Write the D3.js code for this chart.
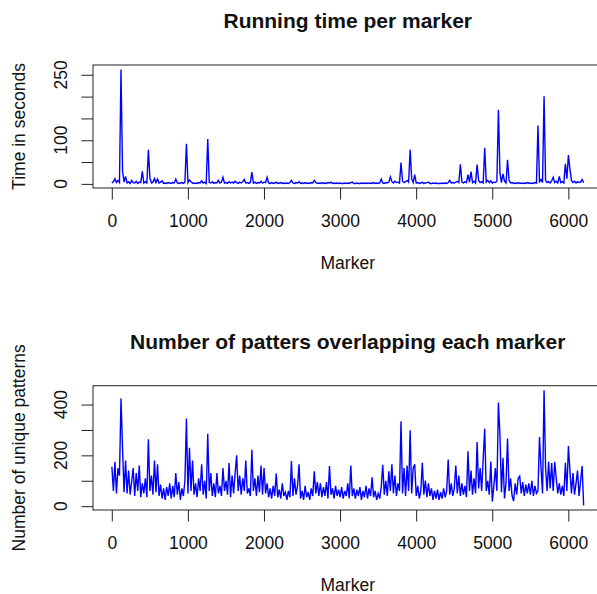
<!DOCTYPE html>
<html>
<head>
<meta charset="utf-8">
<script src="https://cdn.jsdelivr.net/npm/d3@7"></script>
<style>
  body { margin: 0; background: #fff; }
  svg { display: block; font-family: "Liberation Sans", Arial, Helvetica, sans-serif; }
</style>
</head>
<body>
<div id="chart"></div>
<script>
// markers sampled every 20 along the genome-wide index
const step = 20;
const markers = d3.range(1, 6202, step);

// running time (seconds) per marker
const runTime = [
  2, 5, 12, 3, 8, 3, 262, 29, 4, 17,
  2, 5, 1, 8, 3, 2, 6, 1, 4, 3,
  29, 2, 5, 2, 78, 13, 2, 4, 12, 3,
  11, 2, 4, 7, 1, 2, 1, 3, 2, 1,
  3, 2, 11, 2, 1, 2, 3, 1, 4, 92,
  3, 9, 5, 2, 1, 2, 1, 3, 2, 7,
  2, 4, 1, 103, 3, 2, 5, 1, 3, 2,
  8, 2, 4, 15, 2, 3, 1, 5, 2, 4,
  2, 6, 3, 1, 4, 2, 5, 10, 2, 3,
  1, 3, 27, 2, 4, 1, 3, 2, 6, 2,
  4, 3, 15, 2, 1, 3, 1, 2, 4, 1,
  2, 3, 1, 2, 1, 2, 1, 3, 8, 2,
  1, 3, 2, 5, 1, 2, 1, 3, 1, 2,
  1, 3, 2, 8, 3, 1, 2, 1, 3, 1,
  2, 1, 3, 2, 4, 1, 2, 1, 2, 1,
  2, 1, 1, 2, 1, 2, 1, 3, 4, 1,
  1, 2, 1, 1, 2, 1, 2, 1, 2, 1,
  2, 1, 3, 1, 2, 1, 2, 11, 2, 1,
  3, 2, 4, 16, 5, 2, 6, 3, 4, 2,
  49, 6, 3, 5, 8, 4, 78, 12, 3, 21,
  2, 3, 1, 2, 4, 1, 2, 3, 4, 1,
  1, 2, 1, 2, 1, 1, 1, 2, 1, 2,
  1, 3, 8, 2, 3, 2, 4, 6, 3, 45,
  4, 2, 5, 3, 21, 4, 28, 3, 6, 2,
  44, 8, 3, 5, 2, 83, 4, 8, 3, 7,
  2, 4, 3, 6, 170, 25, 3, 23, 6, 2,
  55, 8, 2, 3, 1, 2, 1, 3, 1, 2,
  1, 2, 1, 3, 2, 1, 2, 1, 3, 2,
  134, 5, 10, 3, 201, 8, 3, 5, 2, 7,
  15, 3, 6, 2, 17, 3, 5, 2, 46, 12,
  66, 34, 8, 3, 6, 2, 5, 3, 4, 10,
  3
];

// number of unique patterns overlapping each marker
const patterns = [
  155, 60, 175, 50, 150, 120, 424, 230, 55, 180,
  50, 140, 45, 95, 150, 40, 130, 60, 160, 35,
  90, 50, 110, 35, 263, 60, 120, 45, 180, 55,
  165, 40, 85, 30, 70, 25, 75, 40, 90, 30,
  80, 35, 130, 45, 95, 25, 70, 40, 100, 345,
  50, 230, 60, 180, 45, 90, 35, 110, 60, 165,
  45, 100, 30, 285, 60, 130, 40, 90, 35, 130,
  50, 80, 40, 150, 60, 100, 45, 170, 35, 120,
  50, 130, 200, 60, 120, 45, 110, 60, 180, 50,
  70, 40, 222, 60, 110, 40, 120, 55, 160, 45,
  150, 50, 90, 35, 70, 30, 80, 40, 128, 35,
  65, 30, 90, 40, 55, 25, 60, 35, 178, 40,
  110, 45, 80, 165, 30, 60, 25, 80, 35, 55,
  25, 70, 40, 137, 50, 95, 40, 90, 35, 75,
  40, 95, 30, 158, 45, 70, 30, 80, 40, 65,
  35, 75, 30, 60, 40, 90, 30, 160, 40, 70,
  30, 65, 40, 75, 25, 60, 35, 80, 30, 70,
  40, 114, 35, 60, 25, 50, 30, 75, 163, 45,
  100, 40, 137, 60, 165, 50, 120, 40, 90, 60,
  334, 50, 150, 40, 160, 60, 299, 50, 150, 165,
  40, 80, 30, 60, 171, 45, 101, 35, 90, 40,
  70, 25, 60, 30, 65, 25, 55, 30, 70, 35,
  60, 184, 45, 90, 40, 70, 160, 50, 120, 40,
  90, 45, 80, 35, 216, 60, 140, 45, 110, 50,
  252, 70, 150, 60, 187, 305, 60, 100, 45, 176,
  18, 80, 150, 60, 408, 282, 55, 190, 30, 90,
  266, 60, 110, 40, 20, 90, 45, 110, 118, 50,
  95, 40, 85, 50, 90, 45, 100, 40, 80, 50,
  60, 272, 150, 50, 456, 150, 60, 175, 70, 170,
  60, 175, 110, 50, 90, 45, 80, 40, 171, 60,
  237, 140, 50, 130, 45, 90, 140, 40, 100, 158,
  3
];

const xTicks = [0, 1000, 2000, 3000, 4000, 5000, 6000];
const timeTicks = [0, 50, 100, 150, 200, 250];
const timeLabels = [0, 100, 250];
const patternTicks = [0, 100, 200, 300, 400];
const patternLabels = [0, 200, 400];

const width = 597, height = 594;
const plotLeft = 93, plotRight = 602.5;
const fontSize = 17.5;

const svg = d3.select("#chart")
    .append("svg")
    .attr("width", width)
    .attr("height", height);

svg.append("rect")
    .attr("width", width)
    .attr("height", height)
    .attr("fill", "#fff");

// R style: extend data range by 4% on both sides
function pad(ext) {
    const r = (ext[1] - ext[0]) * 0.04;
    return [ext[0] - r, ext[1] + r];
}

const x = d3.scaleLinear()
    .domain(pad(d3.extent(markers)))
    .range([plotLeft, plotRight]);

function drawPanel(p) {
    const y = d3.scaleLinear()
        .domain(pad(d3.extent(p.values)))
        .range([p.bottom, p.top]);

    const g = svg.append("g");

    // the series
    const line = d3.line()
        .x((d, i) => x(markers[i]))
        .y(d => y(d));

    g.append("path")
        .datum(p.values)
        .attr("fill", "none")
        .attr("stroke", "#0000ff")
        .attr("stroke-width", 1.4)
        .attr("stroke-linejoin", "miter")
        .attr("d", line);

    // box
    g.append("rect")
        .attr("x", plotLeft)
        .attr("y", p.top)
        .attr("width", plotRight - plotLeft)
        .attr("height", p.bottom - p.top)
        .attr("fill", "none")
        .attr("stroke", "#222")
        .attr("stroke-width", 1);

    // x axis
    const xAxis = g.append("g")
        .attr("transform", `translate(0,${p.bottom})`)
        .call(d3.axisBottom(x)
            .tickValues(xTicks)
            .tickSize(11.5)
            .tickPadding(15.5)
            .tickFormat(d3.format("d")));
    xAxis.select(".domain").remove();
    xAxis.selectAll("line").attr("stroke", "#222");
    xAxis.selectAll("text")
        .attr("font-size", fontSize)
        .attr("font-family", "Liberation Sans, Arial, sans-serif")
        .attr("fill", "#111");

    // y axis (ticks only, labels drawn rotated below)
    const yAxis = g.append("g")
        .attr("transform", `translate(${plotLeft},0)`)
        .call(d3.axisLeft(y)
            .tickValues(p.yTicks)
            .tickSize(11.5)
            .tickFormat(""));
    yAxis.select(".domain").remove();
    yAxis.selectAll("line").attr("stroke", "#222");

    g.selectAll(".ylab")
        .data(p.yLabels)
        .join("text")
        .attr("transform", d => `translate(66.7,${y(d)}) rotate(-90)`)
        .attr("text-anchor", "middle")
        .attr("font-size", fontSize)
        .attr("fill", "#111")
        .text(d => d);

    // titles
    g.append("text")
        .attr("x", (plotLeft + plotRight) / 2)
        .attr("y", p.top - 37)
        .attr("text-anchor", "middle")
        .attr("font-size", 21)
        .attr("font-weight", "bold")
        .attr("fill", "#111")
        .text(p.title);

    g.append("text")
        .attr("x", (plotLeft + plotRight) / 2)
        .attr("y", p.bottom + 81)
        .attr("text-anchor", "middle")
        .attr("font-size", fontSize)
        .attr("fill", "#111")
        .text("Marker");

    g.append("text")
        .attr("transform", `translate(24.5,${(p.top + p.bottom) / 2}) rotate(-90)`)
        .attr("text-anchor", "middle")
        .attr("font-size", fontSize)
        .attr("fill", "#111")
        .text(p.ylab);
}

drawPanel({
    top: 65, bottom: 188,
    values: runTime,
    yTicks: timeTicks, yLabels: timeLabels,
    title: "Running time per marker",
    ylab: "Time in seconds"
});

drawPanel({
    top: 385.7, bottom: 510,
    values: patterns,
    yTicks: patternTicks, yLabels: patternLabels,
    title: "Number of patters overlapping each marker",
    ylab: "Number of unique patterns"
});
</script>
</body>
</html>
